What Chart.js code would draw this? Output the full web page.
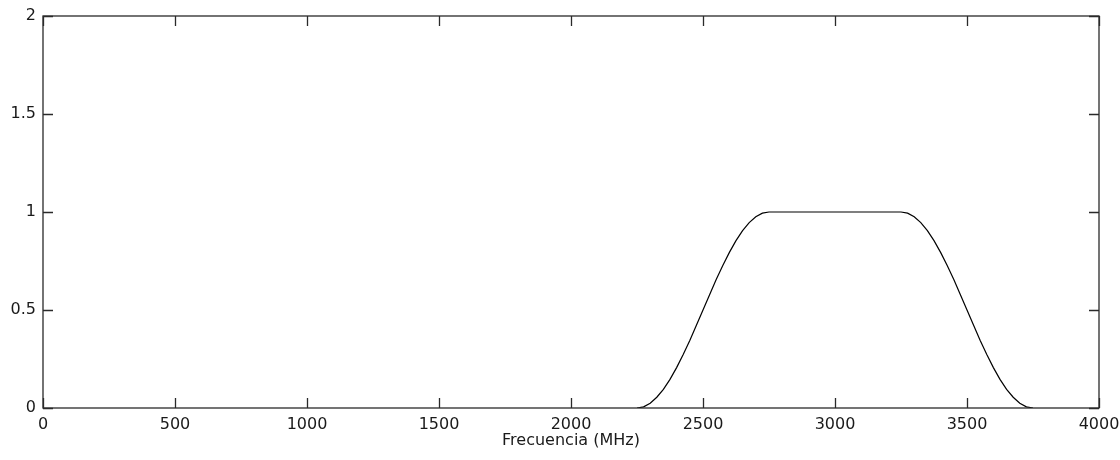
<!DOCTYPE html>
<html>
<head>
<meta charset="utf-8">
<script src="https://cdn.jsdelivr.net/npm/chart.js@4/dist/chart.umd.min.js"></script>
<style>
html,body{margin:0;padding:0;background:#ffffff;}
#wrap{width:1120px;height:460px;position:relative;}
</style>
</head>
<body>
<div id="wrap"><canvas id="c" width="1120" height="460"></canvas></div>
<script>
// Frequency (MHz) and normalized response
const freq = [2250,2275,2300,2325,2350,2375,2400,2425,2450,2475,2500,2525,2550,2575,2600,2625,2650,2675,2700,2725,2750,
              3250,3275,3300,3325,3350,3375,3400,3425,3450,3475,3500,3525,3550,3575,3600,3625,3650,3675,3700,3725,3750];
const gain = [0,0.006,0.024,0.055,0.095,0.146,0.206,0.273,0.345,0.422,0.5,0.578,0.655,0.727,0.794,0.854,0.905,0.946,0.976,0.994,1,
              1,0.994,0.976,0.946,0.905,0.854,0.794,0.727,0.655,0.578,0.5,0.422,0.345,0.273,0.206,0.146,0.095,0.055,0.024,0.006,0];
const xTicks = [0,500,1000,1500,2000,2500,3000,3500,4000];
const yTicks = [0,0.5,1,1.5,2];
const xTitle = 'Frecuencia (MHz)';

const points = freq.map((f,i)=>({x:f,y:gain[i]}));
const FONT = {family:'"DejaVu Sans"', size:16};

const boxPlugin = {
  id:'box',
  afterDraw(chart){
    const {ctx, chartArea:a, scales:{x,y}} = chart;
    ctx.save();
    ctx.strokeStyle = '#2a2a2a';
    ctx.lineWidth = 1.3;
    ctx.strokeRect(a.left, a.top, a.right-a.left, a.bottom-a.top);
    ctx.beginPath();
    const L = 10;
    xTicks.forEach(v=>{
      const px = Math.round(x.getPixelForValue(v))+0.5;
      ctx.moveTo(px,a.bottom); ctx.lineTo(px,a.bottom-L);
      ctx.moveTo(px,a.top); ctx.lineTo(px,a.top+L);
    });
    yTicks.forEach(v=>{
      const py = Math.round(y.getPixelForValue(v))+0.5;
      ctx.moveTo(a.left,py); ctx.lineTo(a.left+L,py);
      ctx.moveTo(a.right,py); ctx.lineTo(a.right-L,py);
    });
    ctx.stroke();
    ctx.restore();
  }
};

new Chart(document.getElementById('c'), {
  type:'line',
  data:{datasets:[{data:points, borderColor:'#000000', borderWidth:1.2, pointRadius:0, tension:0, fill:false}]},
  options:{
    responsive:false, animation:false,
    layout:{padding:{top:16,right:21,left:0,bottom:0}},
    plugins:{legend:{display:false}, tooltip:{enabled:false}},
    scales:{
      x:{type:'linear', min:0, max:4000,
         afterBuildTicks(s){ s.ticks = xTicks.map(v=>({value:v})); },
         afterFit(s){ s.height = 52; s.paddingRight = 0; s.paddingLeft = 0; },
         grid:{display:false, drawTicks:false, tickLength:0}, border:{display:false},
         ticks:{font:FONT, color:'#1a1a1a', padding:7, maxRotation:0, autoSkip:false, callback:v=>String(v)},
         title:{display:true, text:xTitle, font:FONT, color:'#1a1a1a', padding:{top:0,bottom:10}}},
      y:{type:'linear', min:0, max:2,
         afterBuildTicks(s){ s.ticks = yTicks.map(v=>({value:v})); },
         afterFit(s){ s.width = 43; s.paddingTop = 0; s.paddingBottom = 0; },
         grid:{display:false, drawTicks:false, tickLength:0}, border:{display:false},
         ticks:{font:FONT, color:'#1a1a1a', padding:7, callback:v=>String(v)}}
    }
  },
  plugins:[boxPlugin]
});
</script>
</body>
</html>
